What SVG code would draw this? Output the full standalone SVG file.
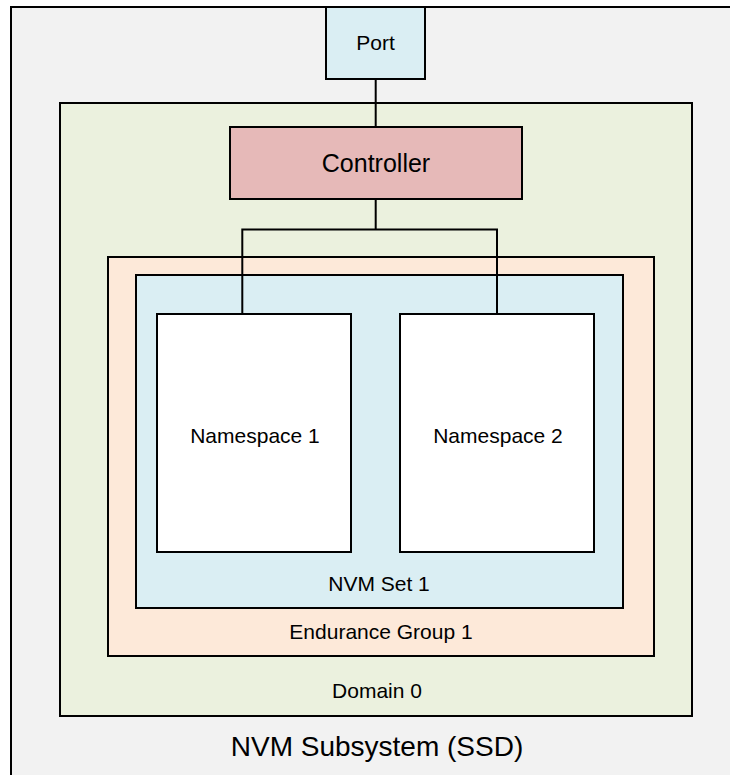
<svg xmlns="http://www.w3.org/2000/svg" width="730" height="775" viewBox="0 0 730 775">
<style>
.box{stroke:#000;stroke-width:2}
.t{font-family:"Liberation Sans",Arial,sans-serif;fill:#000;text-anchor:middle}
.conn{stroke:#000;stroke-width:2;fill:none}
</style>
<rect width="730" height="775" fill="#ffffff"/>
<g id="subsystem">
<rect class="box" x="11" y="7" width="740" height="790" fill="#f2f2f2"/>
<text class="t" x="377" y="756" font-size="28">NVM Subsystem (SSD)</text>
</g>
<g id="domain">
<rect class="box" x="60" y="103" width="632" height="613" fill="#ebf1de"/>
<text class="t" x="377" y="698" font-size="21">Domain 0</text>
</g>
<g id="endurance">
<rect class="box" x="108" y="257" width="546" height="399" fill="#fde9d9"/>
<text class="t" x="381" y="639" font-size="21">Endurance Group 1</text>
</g>
<g id="nvmset">
<rect class="box" x="136" y="275" width="487" height="333" fill="#daeef3"/>
<text class="t" x="379" y="591" font-size="21">NVM Set 1</text>
</g>
<g id="connectors">
<path class="conn" d="M375.7 79 V127"/>
<path class="conn" d="M375.7 199 V229.5 M242.3 229.5 H497 M242.3 228.5 V314 M497 228.5 V314"/>
</g>
<g id="port">
<rect class="box" x="326" y="7" width="99" height="72" fill="#daeef3"/>
<text class="t" x="375.5" y="50" font-size="21">Port</text>
</g>
<g id="controller">
<rect class="box" x="230" y="127" width="292" height="72" fill="#e6b9b8"/>
<text class="t" x="376" y="172" font-size="25">Controller</text>
</g>
<g id="ns1">
<rect class="box" x="157" y="314" width="194" height="238" fill="#ffffff"/>
<text class="t" x="255" y="443" font-size="21">Namespace 1</text>
</g>
<g id="ns2">
<rect class="box" x="400" y="314" width="194" height="238" fill="#ffffff"/>
<text class="t" x="498" y="443" font-size="21">Namespace 2</text>
</g>
</svg>
